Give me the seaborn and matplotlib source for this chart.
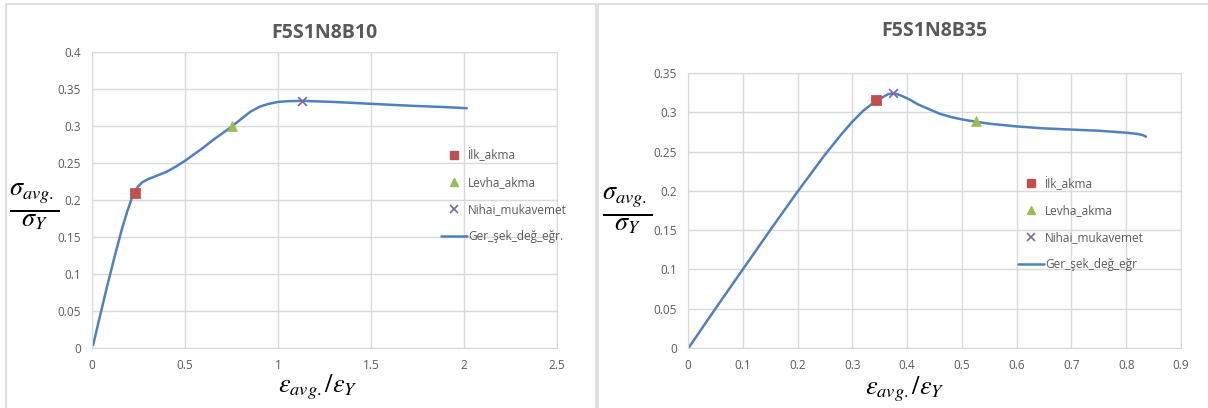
import matplotlib
matplotlib.use("Agg")
import matplotlib.pyplot as plt
from matplotlib.lines import Line2D
from matplotlib.patches import Rectangle
import seaborn as sns
import pandas as pd

# ---- data: F5S1N8B10 ----
b10_strain = [0.006, 0.04, 0.08, 0.12, 0.16, 0.19, 0.215, 0.235, 0.25, 0.27, 0.3, 0.35, 0.4, 0.45, 0.5, 0.55,
              0.6, 0.65, 0.7, 0.75, 0.8, 0.85, 0.9, 0.95, 1.0, 1.05, 1.13, 1.3, 1.5, 1.7, 1.9, 2.015]
b10_stress = [0.004, 0.04, 0.082, 0.122, 0.16, 0.185, 0.203, 0.213, 0.219, 0.224, 0.228, 0.233, 0.238, 0.245,
              0.253, 0.262, 0.271, 0.281, 0.29, 0.299, 0.309, 0.319, 0.326, 0.330, 0.3325, 0.3335, 0.334,
              0.3325, 0.330, 0.3275, 0.3255, 0.324]
b10_ilk = (0.233, 0.209)
b10_levha = (0.751, 0.300)
b10_nihai = (1.131, 0.334)

# ---- data: F5S1N8B35 ----
b35_strain = [0.002, 0.05, 0.1, 0.15, 0.2, 0.25, 0.28, 0.3, 0.32, 0.34, 0.355, 0.365, 0.372, 0.38, 0.39, 0.405,
              0.42, 0.44, 0.46, 0.48, 0.5, 0.525, 0.55, 0.6, 0.65, 0.7, 0.75, 0.8, 0.82, 0.83, 0.836]
b35_stress = [0.001, 0.05, 0.1, 0.15, 0.199, 0.246, 0.272, 0.288, 0.302, 0.313, 0.319, 0.323, 0.324, 0.3235,
              0.321, 0.316, 0.310, 0.304, 0.298, 0.294, 0.291, 0.288, 0.2855, 0.282, 0.2795, 0.278, 0.2765,
              0.274, 0.2725, 0.271, 0.269]
b35_ilk = (0.344, 0.315)
b35_levha = (0.525, 0.289)
b35_nihai = (0.374, 0.324)

titles = ["F5S1N8B10", "F5S1N8B35"]
legend_labels_b10 = ["İlk_akma", "Levha_akma", "Nihai_mukavemet", "Ger_şek_değ_eğr."]
legend_labels_b35 = ["İlk_akma", "Levha_akma", "Nihai_mukavemet", "Ger_şek_değ_eğr"]
b10_xticks = [0, 0.5, 1, 1.5, 2, 2.5]
b10_yticks = [0, 0.05, 0.1, 0.15, 0.2, 0.25, 0.3, 0.35, 0.4]
b35_xticks = [0, 0.1, 0.2, 0.3, 0.4, 0.5, 0.6, 0.7, 0.8, 0.9]
b35_yticks = [0, 0.05, 0.1, 0.15, 0.2, 0.25, 0.3, 0.35]

sns.set_style("white")
plt.rcParams['font.family'] = ['Open Sans', 'DejaVu Sans']
plt.rcParams['mathtext.fontset'] = 'stix'

RED = "#C0504D"
GREEN = "#9BBB59"
PURPLE = "#8064A2"
BLUE = "#4F81BD"
GRID = "#D9D9D9"
TXT = "#595959"

fig = plt.figure(figsize=(12.08, 4.08), dpi=100)

# panel borders
fig.patches.append(Rectangle((6/1208, -0.01), 590/1208, 1 - 4/408 + 0.01, transform=fig.transFigure,
                             fill=False, edgecolor=GRID, linewidth=1.2))
fig.patches.append(Rectangle((598/1208, -0.01), 620/1208, 1 - 4/408 + 0.01, transform=fig.transFigure,
                             fill=False, edgecolor=GRID, linewidth=1.2))

ax1 = fig.add_axes([92/1208, 1 - 348/408, 465/1208, 296/408])
ax2 = fig.add_axes([688/1208, 1 - 348/408, 493/1208, 275/408])


def fmt(v):
    return "%g" % v


def draw(ax, strain, stress, ilk, levha, nihai, xticks, yticks, title, labels, leg_anchor, title_y):
    df = pd.DataFrame({"x": strain, "y": stress})
    sns.lineplot(data=df, x="x", y="y", ax=ax, sort=False, estimator=None, color=BLUE, linewidth=1.8)
    sns.scatterplot(x=[ilk[0]], y=[ilk[1]], ax=ax, marker="s", color=RED, s=50, edgecolor=RED, zorder=5)
    sns.scatterplot(x=[levha[0]], y=[levha[1]], ax=ax, marker="^", color=GREEN, s=50, edgecolor=GREEN, zorder=5)
    sns.scatterplot(x=[nihai[0]], y=[nihai[1]], ax=ax, marker="x", color=PURPLE, s=40, linewidth=1.2, zorder=5)
    ax.set_xlim(xticks[0], xticks[-1])
    ax.set_ylim(yticks[0], yticks[-1])
    ax.set_xticks(xticks)
    ax.set_yticks(yticks)
    ax.set_xticklabels([fmt(v) for v in xticks])
    ax.set_yticklabels([fmt(v) for v in yticks])
    ax.tick_params(axis="both", length=0, labelsize=8.5, colors=TXT, pad=8)
    ax.grid(True, color=GRID, linewidth=1)
    for sp in ax.spines.values():
        sp.set_color(GRID)
    ax.set_xlabel("")
    ax.set_ylabel("")
    ax.set_title(title, fontsize=14, fontweight="bold", color=TXT, y=title_y)
    handles = [
        Line2D([], [], linestyle="none", marker="s", color=RED, markersize=6),
        Line2D([], [], linestyle="none", marker="^", color=GREEN, markersize=6),
        Line2D([], [], linestyle="none", marker="x", color=PURPLE, markersize=6, markeredgewidth=1.2),
        Line2D([], [], color=BLUE, linewidth=1.8),
    ]
    leg = ax.legend(handles, labels, loc="upper left", bbox_to_anchor=leg_anchor, frameon=False,
                    fontsize=8.5, labelspacing=1.17, handlelength=2.2, handletextpad=0.1, borderaxespad=0)
    for t in leg.get_texts():
        t.set_color(TXT)


draw(ax1, b10_strain, b10_stress, b10_ilk, b10_levha, b10_nihai, b10_xticks, b10_yticks,
     titles[0], legend_labels_b10, (0.74, 0.69), 1.02)
draw(ax2, b35_strain, b35_stress, b35_ilk, b35_levha, b35_nihai, b35_xticks, b35_yticks,
     titles[1], legend_labels_b35, (0.66, 0.64), 1.105)

# axis labels (math)
ylab = r"$\frac{\sigma_{avg.}}{\sigma_{Y}}$"
xlab = r"$\left.\varepsilon_{avg.}\right/\varepsilon_{Y}$"
fig.text(34/1208, 1 - 208/408, ylab, fontsize=27, ha="center", va="center", color="black")
fig.text(627/1208, 1 - 212/408, ylab, fontsize=27, ha="center", va="center", color="black")
fig.text(318/1208, 1 - 387/408, xlab, fontsize=19, ha="center", va="center", color="black")
fig.text(905/1208, 1 - 389/408, xlab, fontsize=19, ha="center", va="center", color="black")

fig.savefig("out.png", dpi=100, facecolor="white")
